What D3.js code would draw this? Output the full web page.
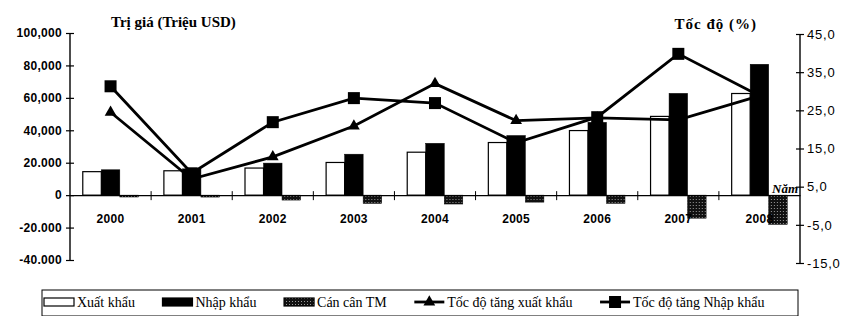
<!DOCTYPE html>
<html>
<head>
<meta charset="utf-8">
<script src="https://cdnjs.cloudflare.com/ajax/libs/d3/7.8.5/d3.min.js"></script>
<style>
  body { margin: 0; background: #fff; }
  svg { display: block; }
</style>
</head>
<body>
<div id="divChart"></div>
<script>
// values (million USD and % growth)
var years = ['2000', '2001', '2002', '2003', '2004', '2005', '2006', '2007', '2008']
var exportVal = [14483, 15029, 16706, 20149, 26485, 32447, 39826, 48561, 62685]
var importVal = [15637, 16218, 19746, 25256, 31969, 36761, 44891, 62765, 80714]
var balanceVal = [-1154, -1189, -3040, -5107, -5484, -4314, -5065, -14204, -18029]
var exportGrowth = [24.5, 7.0, 12.8, 20.9, 32.0, 22.3, 23.0, 22.5, 28.8]
var importGrowth = [31.3, 8.5, 21.9, 28.2, 26.9, 16.5, 23.2, 39.8, 28.8]

var leftTicks = [-40000, -20000, 0, 20000, 40000, 60000, 80000, 100000]
var leftTickLabels = ['-40.000', '-20.000', '0', '20.000', '40,000', '60,000', '80,000', '100,000']
var rightTicks = [-15, -5, 5, 15, 25, 35, 45]
var rightTickLabels = ['-15,0', '-5,0', '5,0', '15,0', '25,0', '35,0', '45,0']

var seriesNames = ['Xuất khẩu', 'Nhập khẩu', 'Cán cân TM', 'Tốc độ tăng xuất khẩu', 'Tốc độ tăng Nhập khẩu']

var chart = {}

function initChart () {
  chart.width = 852
  chart.height = 316

  chart.x = d3.scaleBand().domain(years).range([70, 800])
  chart.xs = d3.scaleBand().domain(['x', 'm', 'b']).range([0, chart.x.bandwidth()]).paddingOuter(0.69)
  chart.yL = d3.scaleLinear().domain([-40000, 100000]).range([260, 33])
  chart.yR = d3.scaleLinear().domain([-15, 45]).range([263, 34])

  chart.svg = d3.select('#divChart')
    .append('svg')
    .attr('width', chart.width)
    .attr('height', chart.height)

  // stipple for the trade balance bars
  var pat = chart.svg.append('defs')
    .append('pattern')
    .attr('id', 'stipple')
    .attr('width', 3)
    .attr('height', 3)
    .attr('patternUnits', 'userSpaceOnUse')
  pat.append('rect').attr('width', 3).attr('height', 3).attr('fill', '#111')
  pat.append('rect').attr('x', 1).attr('y', 1).attr('width', 1).attr('height', 1).attr('fill', '#999')
}

function drawAxes () {
  var svg = chart.svg
  var fontAxis = "'Liberation Sans', Arial, sans-serif"
  var fontTitle = "'Liberation Serif', 'Times New Roman', serif"

  // left axis
  var gL = svg.append('g')
    .attr('transform', 'translate(70,0)')
    .call(d3.axisLeft(chart.yL).tickValues(leftTicks).tickSize(4).tickPadding(4)
      .tickFormat(function (d, i) { return leftTickLabels[i] }))
  gL.selectAll('.tick line').attr('x1', 4)
  gL.select('.domain').attr('d', 'M0,' + chart.yL(100000) + 'V' + chart.yL(-40000))

  // right axis
  var gR = svg.append('g')
    .attr('class', 'axisR')
    .attr('transform', 'translate(800,0)')
    .call(d3.axisRight(chart.yR).tickValues(rightTicks).tickSize(4).tickPadding(3)
      .tickFormat(function (d, i) { return rightTickLabels[i] }))
  gR.selectAll('.tick line').attr('x1', -4)
  gR.select('.domain').attr('d', 'M0,' + chart.yR(45) + 'V' + chart.yR(-15))

  // x axis on the zero line
  var gX = svg.append('g')
    .attr('transform', 'translate(0,' + chart.yL(0) + ')')
    .call(d3.axisBottom(chart.x).tickSize(0).tickPadding(19))
  gX.selectAll('.sep')
    .data(years.slice(1))
    .enter()
    .append('line')
    .attr('class', 'sep')
    .attr('x1', function (d) { return chart.x(d) })
    .attr('x2', function (d) { return chart.x(d) })
    .attr('y1', -4)
    .attr('y2', 5)
    .attr('stroke', '#000')

  svg.selectAll('.domain').attr('stroke', '#000').attr('stroke-width', 1.4)
  svg.selectAll('.tick line').attr('stroke', '#000').attr('stroke-width', 1.2)
  svg.selectAll('.tick text')
    .attr('fill', '#000')
    .attr('font-family', fontAxis)
    .attr('font-size', 12)
    .attr('font-weight', 'bold')
    .attr('letter-spacing', 0.3)
  gR.selectAll('.tick text')
    .attr('font-size', 13)
    .attr('font-weight', 'normal')
    .attr('letter-spacing', 0.8)

  // axis titles
  svg.append('text')
    .attr('x', 111)
    .attr('y', 27)
    .attr('font-family', fontTitle)
    .attr('font-weight', 'bold')
    .attr('font-size', 15)
    .text('Trị giá (Triệu USD)')
  svg.append('text')
    .attr('x', 757)
    .attr('y', 29)
    .attr('text-anchor', 'end')
    .attr('font-family', fontTitle)
    .attr('font-weight', 'bold')
    .attr('font-size', 15)
    .attr('letter-spacing', 1)
    .text('Tốc độ (%)')
  svg.append('text')
    .attr('x', 772)
    .attr('y', 193)
    .attr('font-family', fontTitle)
    .attr('font-weight', 'bold')
    .attr('font-style', 'italic')
    .attr('font-size', 13)
    .text('Năm')
}

function drawBars () {
  var rows = years.map(function (y, i) {
    return { year: y, x: exportVal[i], m: importVal[i], b: balanceVal[i] }
  })
  var fills = { x: '#fff', m: '#000', b: 'url(#stipple)' }

  var groups = chart.svg.append('g')
    .selectAll('g')
    .data(rows)
    .enter()
    .append('g')
    .attr('transform', function (d) { return 'translate(' + chart.x(d.year) + ',0)' })

  groups.selectAll('rect')
    .data(function (d) { return ['x', 'm', 'b'].map(function (k) { return { key: k, v: d[k] } }) })
    .enter()
    .append('rect')
    .attr('x', function (d) { return chart.xs(d.key) })
    .attr('width', chart.xs.bandwidth())
    .attr('y', function (d) { return chart.yL(Math.max(0, d.v)) })
    .attr('height', function (d) { return Math.abs(chart.yL(d.v) - chart.yL(0)) })
    .attr('fill', function (d) { return fills[d.key] })
    .attr('stroke', '#000')
    .attr('stroke-width', function (d) { return d.key === 'x' ? 1.2 : 0.5 })
}

function drawLines () {
  var cx = function (d, i) { return chart.x(years[i]) + chart.x.bandwidth() / 2 }
  var line = d3.line().x(cx).y(function (d) { return chart.yR(d) })

  chart.svg.append('path')
    .datum(exportGrowth)
    .attr('d', line)
    .attr('fill', 'none')
    .attr('stroke', '#000')
    .attr('stroke-width', 2.8)
  chart.svg.append('path')
    .datum(importGrowth)
    .attr('d', line)
    .attr('fill', 'none')
    .attr('stroke', '#000')
    .attr('stroke-width', 2.8)

  var tri = d3.symbol().type(d3.symbolTriangle).size(60)
  chart.svg.append('g')
    .selectAll('path')
    .data(exportGrowth)
    .enter()
    .append('path')
    .attr('d', tri)
    .attr('transform', function (d, i) { return 'translate(' + cx(d, i) + ',' + chart.yR(d) + ')' })
    .attr('fill', '#000')

  chart.svg.append('g')
    .selectAll('rect')
    .data(importGrowth)
    .enter()
    .append('rect')
    .attr('x', function (d, i) { return cx(d, i) - 6 })
    .attr('y', function (d) { return chart.yR(d) - 6 })
    .attr('width', 12)
    .attr('height', 12)
    .attr('fill', '#000')
}

function drawLegend () {
  var box = { x0: 42, x1: 798, y0: 290, y1: 316 }
  var g = chart.svg.append('g')
  g.append('rect')
    .attr('x', box.x0)
    .attr('y', box.y0)
    .attr('width', box.x1 - box.x0)
    .attr('height', box.y1 - box.y0)
    .attr('fill', '#fff')
    .attr('stroke', '#000')
    .attr('stroke-width', 1)

  var cy = 302
  var texts = g.selectAll('.lg')
    .data(seriesNames)
    .enter()
    .append('text')
    .attr('class', 'lg')
    .attr('y', cy + 5)
    .attr('font-family', "'Liberation Serif', 'Times New Roman', serif")
    .attr('font-size', 14)
    .text(function (d) { return d })

  // spread items evenly across the box
  var swW = 30
  var widths = texts.nodes().map(function (n) { return n.getComputedTextLength() })
  var used = d3.sum(widths) + seriesNames.length * (swW + 3)
  var gap = (box.x1 - box.x0 - 8 - used) / seriesNames.length
  var pos = []
  var cur = box.x0 + 2
  widths.forEach(function (w) {
    pos.push(cur)
    cur += swW + 3 + w + gap
  })
  texts.attr('x', function (d, i) { return pos[i] + swW + 3 })

  pos.forEach(function (px, i) {
    if (i < 3) {
      g.append('rect')
        .attr('x', px)
        .attr('y', cy - 4)
        .attr('width', swW)
        .attr('height', 8)
        .attr('fill', ['#fff', '#000', 'url(#stipple)'][i])
        .attr('stroke', '#000')
        .attr('stroke-width', 1.2)
    } else {
      g.append('line')
        .attr('x1', px)
        .attr('x2', px + swW)
        .attr('y1', cy)
        .attr('y2', cy)
        .attr('stroke', '#000')
        .attr('stroke-width', 2.8)
      if (i === 3) {
        g.append('path')
          .attr('d', d3.symbol().type(d3.symbolTriangle).size(60))
          .attr('transform', 'translate(' + (px + swW / 2) + ',' + cy + ')')
      } else {
        g.append('rect')
          .attr('x', px + swW / 2 - 6)
          .attr('y', cy - 6)
          .attr('width', 12)
          .attr('height', 12)
      }
    }
  })
}

initChart()
drawBars()
drawLines()
drawAxes()
drawLegend()
</script>
</body>
</html>
